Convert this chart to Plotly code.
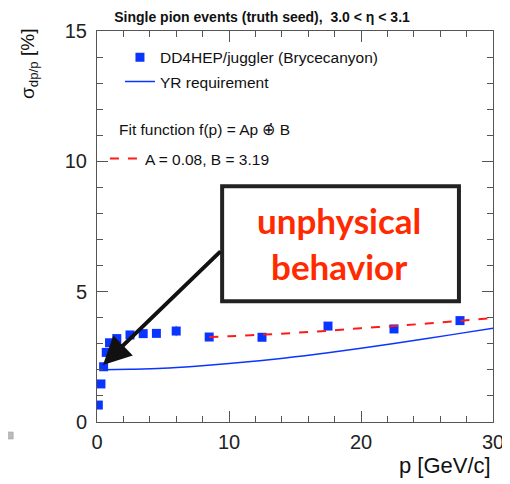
import plotly.graph_objects as go

# ---- data ----
p_data = [0.1, 0.3, 0.5, 0.7, 0.95, 1.5, 2.5, 3.5, 4.5, 6.0, 8.5, 12.5, 17.5, 22.5, 27.5]
sigma_data = [0.65, 1.46, 2.12, 2.67, 3.04, 3.2, 3.34, 3.39, 3.4, 3.49, 3.26, 3.25, 3.68, 3.57, 3.89]
sigma_err = [0.05, 0.05, 0.05, 0.05, 0.05, 0.05, 0.05, 0.05, 0.06, 0.2, 0.08, 0.06, 0.06, 0.06, 0.06]

p_yr = [0.5, 2.5, 5, 7.5, 10, 12.5, 15, 17.5, 20, 22.5, 25, 27.5, 30]
sigma_yr = [2.0, 2.02, 2.06, 2.14, 2.24, 2.36, 2.5, 2.66, 2.83, 3.01, 3.2, 3.4, 3.6]

p_fit = [8.5, 10, 12.5, 15, 17.5, 20, 22.5, 25, 27.5, 30]
sigma_fit = [3.26, 3.29, 3.35, 3.42, 3.5, 3.6, 3.68, 3.78, 3.88, 3.99]

x_ticks = [0, 10, 20, 30]
y_ticks = [0, 5, 10, 15]

BLUE = "#0a35ff"
FONT = "Liberation Sans, Arial, sans-serif"

fig = go.Figure()
fig.add_trace(go.Scatter(
    x=p_data, y=sigma_data, mode="markers", name="DD4HEP/juggler (Brycecanyon)",
    marker=dict(symbol="square", size=9, color=BLUE),
    error_y=dict(type="data", array=sigma_err, color="#8aa0ff", thickness=1.5, width=0),
    legend="legend", legendgroup="a",
))
fig.add_trace(go.Scatter(
    x=p_yr, y=sigma_yr, mode="lines", name="YR requirement",
    line=dict(color=BLUE, width=1.5, shape="spline"),
    legend="legend", legendgroup="b",
))
fig.add_trace(go.Scatter(
    x=p_fit, y=sigma_fit, mode="lines", name="A = 0.08, B = 3.19",
    line=dict(color="#ff1a1a", width=2, dash="dash", shape="spline"),
    legend="legend2",
))

axis_common = dict(
    showline=True, linecolor="#555", linewidth=1, mirror="ticks",
    ticks="inside", tickcolor="#555", tickwidth=1, ticklen=11,
    showgrid=False, zeroline=False, automargin=False,
    tickfont=dict(family=FONT, size=20, color="#222"),
)
fig.update_xaxes(range=[0, 30], tickvals=x_ticks, ticklabelstandoff=2,
                 minor=dict(ticks="inside", dtick=2, ticklen=6, tickcolor="#555"),
                 **axis_common)
fig.update_yaxes(range=[0, 15], tickvals=y_ticks, ticklabelstandoff=5,
                 minor=dict(ticks="inside", dtick=1, ticklen=6, tickcolor="#555"),
                 **axis_common)

# page body has an 8px margin, so the figure is a bit smaller and offset
fig.update_layout(
    width=502, height=476, autosize=False,
    margin=dict(l=89, r=17, t=23, b=62, autoexpand=False),
    plot_bgcolor="white", paper_bgcolor="white",
    title=dict(text="<b>Single pion events (truth seed),  3.0 < η < 3.1</b>",
               x=0.506, xref="container", xanchor="center",
               y=1 - 9 / 476, yanchor="middle",
               font=dict(family=FONT, size=14, color="#111")),
    legend=dict(x=0.058, y=0.975, xanchor="left", yanchor="top",
                font=dict(family=FONT, size=15.5, color="#111"),
                bgcolor="rgba(0,0,0,0)", tracegroupgap=1, traceorder="grouped"),
    legend2=dict(x=0.02, y=0.716, xanchor="left", yanchor="top",
                 font=dict(family=FONT, size=15.5, color="#111"),
                 bgcolor="rgba(0,0,0,0)"),
)

annotations = [
    dict(text="σ<sub>dp/p</sub> [%]", xref="paper", yref="paper", x=-0.17, y=0.915,
         xanchor="center", yanchor="middle", textangle=-90, showarrow=False,
         font=dict(family=FONT, size=19, color="#111")),
    dict(text="p [GeV/c]", xref="paper", yref="paper", x=1.0, y=-0.11,
         xanchor="right", yanchor="middle", showarrow=False,
         font=dict(family=FONT, size=22, color="#111")),
    dict(text="Fit function f(p) = Ap ⊕̇ B", xref="paper", yref="paper", x=0.05, y=0.747,
         xanchor="left", yanchor="middle", showarrow=False,
         font=dict(family=FONT, size=15.5, color="#111")),
    dict(text="<b>unphysical<br>behavior</b>", xref="paper", yref="paper", x=0.61, y=0.458,
         xanchor="center", yanchor="middle", showarrow=False,
         font=dict(family="Lato, Open Sans, sans-serif", size=35, color="#ff2a00"),
         ),
    dict(text="", x=0.45, y=2.19, xref="x", yref="y", ax=9.47, ay=6.6, axref="x", ayref="y",
         showarrow=True, arrowhead=2, arrowsize=1.4, arrowwidth=4, arrowcolor="#111"),
]
fig.update_layout(annotations=annotations)

fig.add_shape(type="rect", xref="paper", yref="paper", x0=0.316, x1=0.914, y0=0.309, y1=0.603,
              line=dict(color="#222", width=4), fillcolor="rgba(0,0,0,0)")
fig.add_shape(type="rect", xref="paper", yref="paper", x0=-0.227, x1=-0.212, y0=-0.026, y1=-0.043,
              line=dict(color="#aaa", width=1), fillcolor="#bbb")

fig.write_html("out.html")
